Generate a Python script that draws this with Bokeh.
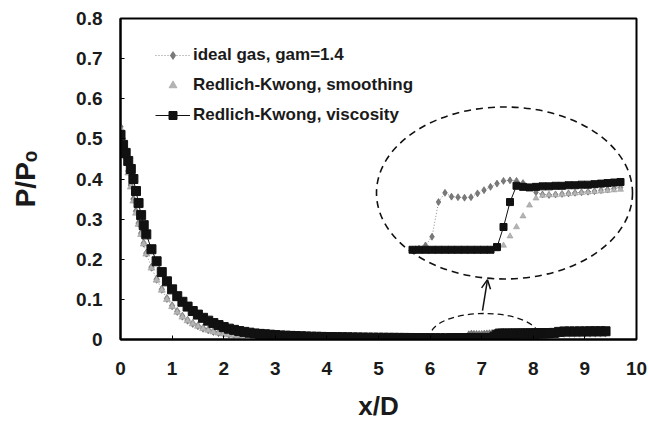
import math
from bokeh.plotting import figure
from bokeh.models import (Range1d, Arrow, OpenHead, Legend, LegendItem,
                          SingleIntervalTicker, PrintfTickFormatter)
from bokeh.embed import file_html
from bokeh.resources import INLINE

# ---------------- data ----------------
x_d = [
    0.0, 0.05, 0.1, 0.15, 0.2, 0.25, 0.3, 0.35, 0.4, 0.45, 0.5,
    0.6, 0.7, 0.8, 0.9, 1.0, 1.1, 1.2, 1.3, 1.4, 1.5, 1.6, 1.7, 1.8, 1.9, 2.0,
    2.1, 2.2, 2.3, 2.4, 2.5, 2.6, 2.7, 2.8, 2.9, 3.0,
    3.1, 3.2, 3.3, 3.4, 3.5, 3.6, 3.7, 3.8, 3.9, 4.0,
    4.1, 4.2, 4.3, 4.4, 4.5, 4.6, 4.7, 4.8, 4.9, 5.0,
    5.1, 5.2, 5.3, 5.4, 5.5, 5.6, 5.7, 5.8, 5.9, 6.0,
    6.1, 6.2, 6.3, 6.4,
    6.45, 6.5, 6.55, 6.6, 6.65, 6.7, 6.75, 6.8, 6.85, 6.9, 6.95, 7.0, 7.05, 7.1, 7.15,
    7.2, 7.25, 7.3, 7.35, 7.4, 7.45, 7.5, 7.55, 7.6, 7.65, 7.7, 7.75, 7.8, 7.85, 7.9,
    7.95, 8.0, 8.05, 8.1, 8.15, 8.2, 8.25, 8.3,
    8.4, 8.5, 8.6, 8.7, 8.8, 8.9, 9.0, 9.1, 9.2, 9.3, 9.4,
]

p_ideal = [
    0.53, 0.50, 0.46, 0.42, 0.385, 0.35, 0.32, 0.29, 0.265, 0.24, 0.215,
    0.18, 0.15, 0.125, 0.102, 0.084, 0.07, 0.058, 0.048, 0.04, 0.034, 0.028, 0.024, 0.02, 0.017, 0.015,
    0.013, 0.011, 0.01, 0.009, 0.008, 0.007, 0.0068, 0.0062, 0.0058, 0.0055,
    0.0052, 0.005, 0.0048, 0.0046, 0.0044, 0.0042, 0.004, 0.0039, 0.0038, 0.0037,
    0.0036, 0.0035, 0.0034, 0.0034, 0.0033, 0.0033, 0.0032, 0.0032, 0.0031, 0.0031,
    0.003, 0.003, 0.003, 0.003, 0.003, 0.003, 0.003, 0.003, 0.003, 0.003,
    0.003, 0.003, 0.003, 0.003,
    0.003, 0.003, 0.003, 0.0032, 0.0038, 0.0054, 0.0118, 0.0135, 0.0128, 0.0127, 0.0126, 0.0127, 0.0134, 0.014, 0.0146,
    0.0152, 0.0157, 0.0158, 0.0157, 0.0153, 0.0145, 0.0136, 0.0132, 0.0131, 0.0132, 0.0133, 0.0134, 0.0135, 0.0136, 0.0137,
    0.0138, 0.014, 0.0141, 0.0143, 0.0145, 0.0146, 0.0147, 0.0148,
    0.015, 0.0152, 0.0153, 0.0154, 0.0155, 0.0156, 0.0157, 0.0158, 0.0158, 0.0159, 0.016,
]

p_smooth = [
    0.525, 0.495, 0.455, 0.415, 0.38, 0.345, 0.315, 0.287, 0.262, 0.238, 0.213,
    0.178, 0.148, 0.123, 0.1, 0.082, 0.068, 0.056, 0.047, 0.039, 0.033, 0.027, 0.023, 0.019, 0.016, 0.014,
    0.012, 0.0105, 0.0095, 0.0085, 0.0075, 0.0068, 0.0063, 0.0058, 0.0054, 0.0051,
    0.0049, 0.0047, 0.0045, 0.0043, 0.0041, 0.004, 0.0039, 0.0038, 0.0037, 0.0036,
    0.0035, 0.0034, 0.0034, 0.0033, 0.0033, 0.0032, 0.0032, 0.0031, 0.0031, 0.003,
    0.003, 0.003, 0.003, 0.003, 0.003, 0.003, 0.003, 0.003, 0.003, 0.003,
    0.003, 0.003, 0.003, 0.003,
    0.003, 0.003, 0.003, 0.003, 0.003, 0.003, 0.003, 0.003, 0.003, 0.003, 0.003, 0.003, 0.003, 0.003, 0.003,
    0.0031, 0.0038, 0.0055, 0.0072, 0.0092, 0.0112, 0.0125, 0.013, 0.0131, 0.0131, 0.0132, 0.0133, 0.0134, 0.0135, 0.0136,
    0.0137, 0.0138, 0.0139, 0.014, 0.0141, 0.0142, 0.0143, 0.0144,
    0.0146, 0.0148, 0.0149, 0.015, 0.0151, 0.0152, 0.0153, 0.0154, 0.0155, 0.0155, 0.0156,
]

p_visc = [
    0.51, 0.485, 0.465, 0.445, 0.425, 0.40, 0.37, 0.34, 0.31, 0.285, 0.262,
    0.225, 0.195, 0.168, 0.145, 0.125, 0.108, 0.094, 0.082, 0.071, 0.062, 0.054, 0.047, 0.041, 0.036, 0.031,
    0.027, 0.024, 0.021, 0.019, 0.017, 0.015, 0.014, 0.013, 0.012, 0.011,
    0.010, 0.0095, 0.009, 0.0085, 0.008, 0.0075, 0.007, 0.0068, 0.0065, 0.0062,
    0.006, 0.0058, 0.0056, 0.0054, 0.0052, 0.005, 0.0048, 0.0046, 0.0045, 0.0044,
    0.0043, 0.0042, 0.0041, 0.004, 0.0039, 0.0038, 0.0037, 0.0036, 0.0035, 0.0034,
    0.0033, 0.0032, 0.0031, 0.003,
    0.003, 0.003, 0.003, 0.003, 0.003, 0.003, 0.003, 0.003, 0.003, 0.003, 0.003, 0.003, 0.003, 0.003, 0.003,
    0.0035, 0.0072, 0.0118, 0.0148, 0.0146, 0.0145, 0.0146, 0.0147, 0.0147, 0.0148, 0.0148, 0.0149, 0.0149, 0.015, 0.015,
    0.0151, 0.0152, 0.0153, 0.0154, 0.0155, 0.0156, 0.0157, 0.0158,
    0.0165, 0.019, 0.02, 0.02, 0.02, 0.0202, 0.0202, 0.0204, 0.0204, 0.0205, 0.0205,
]

assert len(x_d) == len(p_ideal) == len(p_smooth) == len(p_visc)

series_names = ["ideal gas, gam=1.4", "Redlich-Kwong, smoothing", "Redlich-Kwong, viscosity"]
x_label = "x/D"
y_label = "P/P\u2092"          # P/P with subscript o
inset_window = (6.55, 8.17)    # x/D window shown magnified in the big ellipse

# ---------------- layout ----------------
W, H = 649, 423
FL, FT, FW, FH = 120, 18, 516, 322     # frame left, top, width, height
FONT = "Liberation Sans"
TXT = "#1a1a1a"

p = figure(width=W, height=H, output_backend="svg", toolbar_location=None,
           x_range=Range1d(0, 10), y_range=Range1d(0, 0.8),
           min_border_left=FL, min_border_top=FT,
           min_border_right=W - FL - FW, min_border_bottom=H - FT - FH)
p.background_fill_color = "white"
p.border_fill_color = "white"
p.grid.visible = False
p.outline_line_color = "black"
p.outline_line_width = 2

for ax in (p.xaxis[0], p.yaxis[0]):
    ax.axis_line_width = 2
    ax.axis_line_color = "black"
    ax.major_tick_in = 4
    ax.major_tick_out = 0
    ax.minor_tick_in = 0
    ax.minor_tick_out = 0
    ax.major_tick_line_color = "black"
    ax.major_label_text_font = FONT
    ax.major_label_text_font_style = "bold"
    ax.major_label_text_color = TXT
    ax.axis_label_text_font = FONT
    ax.axis_label_text_font_style = "bold"
    ax.axis_label_text_color = TXT

p.xaxis.ticker = SingleIntervalTicker(interval=1)
p.xaxis.major_label_text_font_size = "19px"
p.xaxis.major_label_standoff = 22
p.xaxis.axis_label = x_label
p.xaxis.axis_label_text_font_size = "26px"
p.xaxis.axis_label_standoff = 13

p.yaxis.ticker = SingleIntervalTicker(interval=0.1)
p.yaxis.formatter = PrintfTickFormatter(format="%.1f")
p.yaxis.major_label_overrides = {0: "0"}
p.yaxis.major_label_text_font_size = "19px"
p.yaxis.major_label_standoff = 18
p.yaxis.axis_label = y_label
p.yaxis.axis_label_text_font_size = "28px"
p.yaxis.axis_label_standoff = 32


def to_data(px, py):
    """pixel position in the picture -> main data coordinates (for annotations)"""
    return (px - FL) / FW * 10.0, (FT + FH - py) / FH * 0.8


# ---------------- main curves ----------------
C_IDEAL = "#7a7a7a"
C_SMOOTH = "#b4b4b4"
C_VISC = "#111111"

l_ideal = p.line(x_d, p_ideal, line_color="#8a8a8a", line_width=1, line_dash="1 2")
s_ideal = p.scatter(x_d, p_ideal, marker="diamond", size=8, fill_color=C_IDEAL,
                    line_color="#5a5a5a", line_width=0.6)
s_smooth = p.scatter(x_d, p_smooth, marker="triangle", size=7, fill_color=C_SMOOTH,
                     line_color="#9a9a9a", line_width=0.6)
l_visc = p.line(x_d, p_visc, line_color=C_VISC, line_width=1)
s_visc = p.scatter(x_d, p_visc, marker="square", size=9, fill_color=C_VISC,
                   line_color=C_VISC)

# ---------------- magnified inset (same data, zoomed scales) ----------------
KX, X_ANCHOR, PX_ANCHOR = 130.0, 6.55, 412.0       # px per unit, data x at pixel
KY, Y_ANCHOR, PY_ANCHOR = 5440.0, 0.003, 250.0     # px per unit, data y at pixel
ix0 = X_ANCHOR - (PX_ANCHOR - FL) / KX
iy1 = Y_ANCHOR + (PY_ANCHOR - FT) / KY
p.extra_x_ranges = {"ix": Range1d(ix0, ix0 + FW / KX)}
p.extra_y_ranges = {"iy": Range1d(iy1 - FH / KY, iy1)}

sel = [i for i, v in enumerate(x_d) if inset_window[0] - 1e-9 <= v <= inset_window[1]]
xi = [x_d[i] for i in sel]
kw = dict(x_range_name="ix", y_range_name="iy")
p.line(xi, [p_ideal[i] for i in sel], line_color="#8a8a8a", line_width=1, line_dash="1 2", **kw)
p.scatter(xi, [p_ideal[i] for i in sel], marker="diamond", size=7, fill_color=C_IDEAL,
          line_color="#5a5a5a", line_width=0.6, **kw)
p.scatter(xi, [p_smooth[i] for i in sel], marker="triangle", size=6, fill_color=C_SMOOTH,
          line_color="#9a9a9a", line_width=0.6, **kw)
p.line(xi, [p_visc[i] for i in sel], line_color=C_VISC, line_width=1, **kw)
p.scatter(xi, [p_visc[i] for i in sel], marker="square", size=7, fill_color=C_VISC,
          line_color=C_VISC, **kw)

# ---------------- ellipses and arrow ----------------
bx, by = to_data(504, 193)
p.ellipse(x=[bx], y=[by], width=256, height=172, width_units="screen", height_units="screen",
          fill_color=None, line_color="#111111", line_width=1.6, line_dash="7 5")
sx, sy = to_data(484, 336)
p.ellipse(x=[sx], y=[sy], width=108, height=44, width_units="screen", height_units="screen",
          fill_color=None, line_color="#111111", line_width=1.3, line_dash="6 4")
ax0, ay0 = to_data(482, 311)
ax1, ay1 = to_data(487, 280)
p.add_layout(Arrow(end=OpenHead(size=9, line_width=1.5, line_color="#111111"),
                   x_start=ax0, y_start=ay0, x_end=ax1, y_end=ay1,
                   line_width=1.5, line_color="#111111"))

# ---------------- legend ----------------
legend = Legend(items=[
    LegendItem(label=series_names[0], renderers=[l_ideal, s_ideal]),
    LegendItem(label=series_names[1], renderers=[s_smooth]),
    LegendItem(label=series_names[2], renderers=[l_visc, s_visc]),
], location=(35, 214))
legend.border_line_color = None
legend.background_fill_alpha = 0
legend.padding = 0
legend.margin = 0
legend.spacing = 10
legend.glyph_width = 35
legend.glyph_height = 20
legend.label_height = 20
legend.label_standoff = 3
legend.label_text_font = FONT
legend.label_text_font_style = "bold"
legend.label_text_font_size = "17px"
legend.label_text_color = TXT
p.add_layout(legend)

open("out.html", "w").write(file_html(p, INLINE))
